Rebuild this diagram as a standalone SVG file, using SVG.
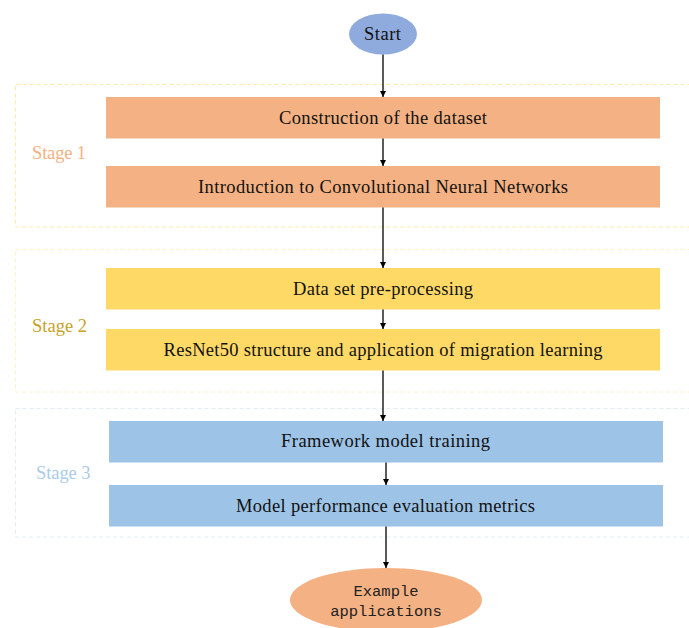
<svg xmlns="http://www.w3.org/2000/svg" width="689" height="628" viewBox="0 0 689 628">
<style>
.lbl{font-family:"Liberation Serif","DejaVu Serif",serif;font-size:18.5px;fill:#111;text-anchor:middle;dominant-baseline:central}
.stage{font-family:"Liberation Serif","DejaVu Serif",serif;font-size:18.5px;dominant-baseline:central}
.mono{font-family:"Liberation Mono","DejaVu Sans Mono",monospace;font-size:15.5px;fill:#222;text-anchor:middle;dominant-baseline:central}
.frame{fill:none;stroke-width:1;stroke-dasharray:4 3}
.conn line{stroke:#000;stroke-width:1.3;marker-end:url(#ah)}
</style>
<defs>
<marker id="ah" viewBox="0 0 10 10" refX="10" refY="5" markerWidth="6" markerHeight="6" markerUnits="userSpaceOnUse" orient="auto"><path d="M0,0L10,5L0,10z" fill="#000"/></marker>
</defs>
<rect width="689" height="628" fill="#fff"/>
<g id="stage1">
<rect class="frame" x="15.5" y="84.5" width="690" height="142.5" stroke="#FFE9A8"/>
<text class="stage" x="32" y="153" fill="#F4B183" textLength="54" lengthAdjust="spacing">Stage 1</text>
</g>
<g id="stage2">
<rect class="frame" x="15.5" y="249.5" width="690" height="142.5" stroke="#FFF0C8"/>
<text class="stage" x="32" y="326" fill="#C9A227" textLength="55" lengthAdjust="spacing">Stage 2</text>
</g>
<g id="stage3">
<rect class="frame" x="15.5" y="408.5" width="690" height="128.5" stroke="#E2ECF6"/>
<text class="stage" x="36" y="473" fill="#A9CBEA" textLength="54.5" lengthAdjust="spacing">Stage 3</text>
</g>
<g id="start">
<ellipse cx="383" cy="34" rx="34" ry="20.5" fill="#8FAADC"/>
<text class="lbl" x="382.5" y="34" textLength="37" lengthAdjust="spacing">Start</text>
</g>
<g id="n1">
<rect x="106" y="97" width="554" height="41.5" fill="#F4B183"/>
<text class="lbl" x="383" y="118" textLength="208" lengthAdjust="spacing">Construction of the dataset</text>
</g>
<g id="n2">
<rect x="106" y="166" width="554" height="41.5" fill="#F4B183"/>
<text class="lbl" x="383" y="186.5" textLength="370" lengthAdjust="spacing">Introduction to Convolutional Neural Networks</text>
</g>
<g id="n3">
<rect x="106" y="268" width="554" height="41.5" fill="#FFD966"/>
<text class="lbl" x="383" y="289" textLength="180" lengthAdjust="spacing">Data set pre-processing</text>
</g>
<g id="n4">
<rect x="106" y="329" width="554" height="41.5" fill="#FFD966"/>
<text class="lbl" x="383" y="350" textLength="439" lengthAdjust="spacing">ResNet50 structure and application of migration learning</text>
</g>
<g id="n5">
<rect x="109" y="421" width="554" height="41.5" fill="#9DC3E6"/>
<text class="lbl" x="385.5" y="441" textLength="209" lengthAdjust="spacing">Framework model training</text>
</g>
<g id="n6">
<rect x="109" y="485" width="554" height="41.5" fill="#9DC3E6"/>
<text class="lbl" x="385.5" y="506" textLength="299" lengthAdjust="spacing">Model performance evaluation metrics</text>
</g>
<g id="end">
<ellipse cx="386" cy="600" rx="96" ry="32" fill="#F4B183"/>
<text class="mono" x="386" y="592">Example</text>
<text class="mono" x="386" y="612">applications</text>
</g>
<g id="connectors" class="conn">
<line x1="383" y1="54.5" x2="383" y2="97"/>
<line x1="383" y1="138.5" x2="383" y2="166"/>
<line x1="383" y1="207.5" x2="383" y2="268"/>
<line x1="383" y1="309.5" x2="383" y2="329"/>
<line x1="383" y1="370.5" x2="383" y2="421"/>
<line x1="386" y1="462.5" x2="386" y2="485"/>
<line x1="386" y1="526.5" x2="386" y2="568"/>
</g>
</svg>
